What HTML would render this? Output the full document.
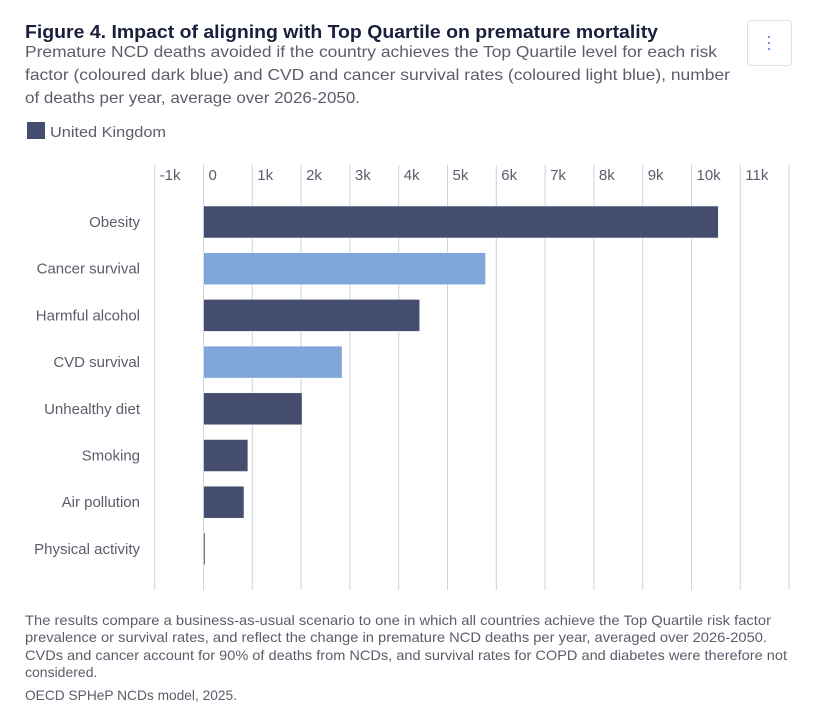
<!DOCTYPE html>
<html><head><meta charset="utf-8"><style>
body{margin:0;background:#fff;}
svg{display:block;font-family:"Liberation Sans",sans-serif;}
</style></head><body>
<svg id="chart" width="814" height="727">
<text x="25" y="38" font-size="18" font-weight="bold" fill="#1a1f3c" textLength="633" lengthAdjust="spacingAndGlyphs">Figure 4. Impact of aligning with Top Quartile on premature mortality</text>
<text x="25" y="57" font-size="16" fill="#5a5d6b" textLength="692" lengthAdjust="spacingAndGlyphs">Premature NCD deaths avoided if the country achieves the Top Quartile level for each risk</text>
<text x="25" y="80" font-size="16" fill="#5a5d6b" textLength="705" lengthAdjust="spacingAndGlyphs">factor (coloured dark blue) and CVD and cancer survival rates (coloured light blue), number</text>
<text x="25" y="103" font-size="16" fill="#5a5d6b" textLength="335" lengthAdjust="spacingAndGlyphs">of deaths per year, average over 2026-2050.</text>
<g>
<rect x="747.5" y="20.5" width="44" height="45" rx="3" fill="#fff" stroke="#dde0e6"/>
<circle cx="769" cy="37" r="1" fill="#3b7dd8"/><circle cx="769" cy="43" r="1" fill="#3b7dd8"/><circle cx="769" cy="49" r="1" fill="#3b7dd8"/>
</g>
<g>
<rect x="27" y="122" width="18" height="17" fill="#454e6e"/>
<text x="50" y="137" font-size="15" fill="#5a5d6b" textLength="116" lengthAdjust="spacingAndGlyphs">United Kingdom</text>
</g>
<g id="grid"></g><g id="bars"></g><g id="labels"></g>
<g font-size="14" fill="#5a5d6b">
<text x="25" y="625" textLength="746" lengthAdjust="spacingAndGlyphs">The results compare a business-as-usual scenario to one in which all countries achieve the Top Quartile risk factor</text>
<text x="25" y="642" textLength="742" lengthAdjust="spacingAndGlyphs">prevalence or survival rates, and reflect the change in premature NCD deaths per year, averaged over 2026-2050.</text>
<text x="25" y="660" textLength="762" lengthAdjust="spacingAndGlyphs">CVDs and cancer account for 90% of deaths from NCDs, and survival rates for COPD and diabetes were therefore not</text>
<text x="25" y="677">considered.</text>
<text x="25" y="700" textLength="212" lengthAdjust="spacingAndGlyphs">OECD SPHeP NCDs model, 2025.</text>
</g>
</svg>
<script>
const categories=["Obesity","Cancer survival","Harmful alcohol","CVD survival","Unhealthy diet","Smoking","Air pollution","Physical activity"];
const values=[10.55,5.78,4.43,2.84,2.02,0.91,0.83,0.02];
const survival=[false,true,false,true,false,false,false,false];
const ticks=[-1,0,1,2,3,4,5,6,7,8,9,10,11,12];
const tickLabels=["-1k","0","1k","2k","3k","4k","5k","6k","7k","8k","9k","10k","11k",""];
const NS="http://www.w3.org/2000/svg";
const xs=v=>203.5+v*48.8;
const rowY=i=>222+i*46.7;
const plotTop=165,plotBottom=590;
function mk(t,a,p){const e=document.createElementNS(NS,t);for(const k in a)e.setAttribute(k,a[k]);p.appendChild(e);return e;}
const g=document.getElementById('grid'),b=document.getElementById('bars'),l=document.getElementById('labels');
ticks.forEach((t,i)=>{
 const ln=mk('line',{x1:xs(t),x2:xs(t),y1:plotTop,y2:plotBottom,stroke:'#cdd3dc','stroke-width':1},g);
 
 
 if(tickLabels[i]){const tx=mk('text',{x:xs(t)+5,y:180,'font-size':15,fill:'#5a5d6b'},g);tx.textContent=tickLabels[i];
 
 }
});
categories.forEach((c,i)=>{
 const v=values[i];const x0=xs(Math.min(0,v)),w=Math.max(Math.abs(xs(v)-xs(0)),1.5);
 const r=mk('rect',{x:x0,y:rowY(i)-16,width:w,height:32,fill:survival[i]?'#7fa7d9':'#454e6e',stroke:'#fff','stroke-width':0.5},b);
 
 
 const tx=mk('text',{x:140,y:rowY(i)+5,'font-size':15,fill:'#5a5d6b','text-anchor':'end'},l);tx.textContent=c;
 
 
});
</script>
</body></html>
